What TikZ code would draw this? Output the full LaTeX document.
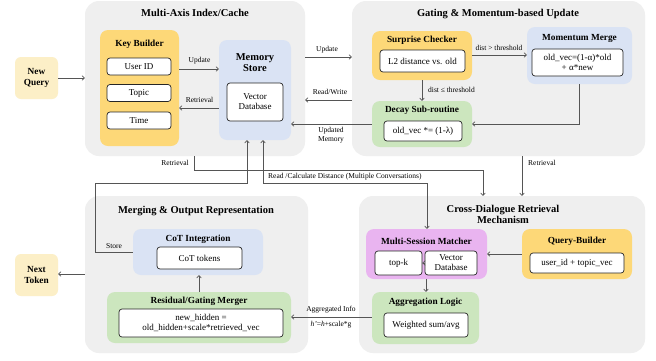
\documentclass[tikz,border=0pt]{standalone}
\usepackage{fontspec}
\setmainfont{Liberation Serif}
\usetikzlibrary{arrows.meta}
\definecolor{panelgray}{HTML}{EFEFEF}
\definecolor{ygold}{HTML}{FDD878}
\definecolor{ylight}{HTML}{FCEFC7}
\definecolor{bluebox}{HTML}{DAE3F4}
\definecolor{greenbox}{HTML}{CCE6BE}
\definecolor{pinkbox}{HTML}{E9B4F0}
\definecolor{linegray}{HTML}{555555}
\begin{document}
\begin{tikzpicture}[x=1pt,y=-1pt,
  panel/.style={fill=panelgray, rounded corners=14pt, inner sep=0pt},
  card/.style={rounded corners=8pt, inner sep=0pt},
  inbox/.style={draw=black!85, line width=0.7pt, fill=white, rounded corners=3pt, inner sep=0pt, font=\fontsize{9}{10}\selectfont, align=center},
  ptitle/.style={font=\bfseries\fontsize{10.5}{11}\selectfont, align=center, inner sep=0pt},
  ctitle/.style={font=\bfseries\fontsize{9.3}{10.5}\selectfont, align=center, inner sep=0pt},
  lbl/.style={font=\fontsize{7.5}{9}\selectfont, align=center, inner sep=0pt},
  conn/.style={draw=linegray, line width=0.7pt, -{To[length=3pt,width=5pt]}},
  conn2/.style={draw=linegray, line width=0.7pt, {To[length=3pt,width=5pt]}-{To[length=3pt,width=5pt]}}
]
\useasboundingbox (0,0) rectangle (656,360);
\fill[white] (0,0) rectangle (656,360);

% panels
\node[panel, minimum width=220, minimum height=155] (p1) at (195,78.5) {};
\node[panel, minimum width=293, minimum height=155] (p2) at (498.5,78.5) {};
\node[panel, minimum width=223, minimum height=157] (p3) at (196.5,274.5) {};
\node[panel, minimum width=286, minimum height=157] (p4) at (502,274.5) {};
\node[ptitle] (t1) at (195,13) {Multi-Axis Index/Cache};
\node[ptitle] (t2) at (498,14) {Gating \& Momentum-based Update};
\node[ptitle] (t3) at (196,211) {Merging \& Output Representation};
\node[ptitle] (t4) at (503,214) {Cross-Dialogue Retrieval\\Mechanism};

% outer boxes
\node[card, fill=ylight, minimum width=43, minimum height=42, rounded corners=6pt, font=\bfseries\fontsize{9.3}{11}\selectfont, align=center] (nq) at (36.5,78) {New\\Query};
\node[card, fill=ylight, minimum width=43, minimum height=42, rounded corners=6pt, font=\bfseries\fontsize{9.3}{11}\selectfont, align=center] (nt) at (36.5,275) {Next\\Token};

% Multi-Axis
\node[card, fill=ygold, minimum width=79, minimum height=116] (kb) at (139.5,88) {};
\node[ctitle] (kbt) at (139.5,44) {Key Builder};
\node[inbox, minimum width=64, minimum height=17] (uid) at (139,66.5) {User ID};
\node[inbox, minimum width=64, minimum height=17] (top) at (139,93) {Topic};
\node[inbox, minimum width=64, minimum height=17] (tim) at (139,120.5) {Time};
\node[card, fill=bluebox, minimum width=72, minimum height=100] (ms) at (255,90) {};
\node[ptitle] (mst) at (255,63) {Memory\\Store};
\node[inbox, minimum width=56, minimum height=38] (vdb) at (255,102) {Vector\\Database};

% Gating
\node[card, fill=ygold, minimum width=100, minimum height=49] (sc) at (422,55.5) {};
\node[ctitle] (sct) at (422,40) {Surprise Checker};
\node[inbox, minimum width=85, minimum height=22] (l2) at (422.5,61) {L2 distance vs. old};
\node[card, fill=bluebox, minimum width=105, minimum height=57] (mm) at (579.5,55.5) {};
\node[ctitle] (mmt) at (579.5,38) {Momentum Merge};
\node[inbox, minimum width=91, minimum height=27] (mmi) at (577.5,62.5) {old\_vec=(1-α)*old\\+ α*new};
\node[card, fill=greenbox, minimum width=100, minimum height=46] (dec) at (422,124) {};
\node[ctitle] (dect) at (422,110) {Decay Sub-routine};
\node[inbox, minimum width=78, minimum height=20] (deci) at (423,131) {old\_vec *= (1-λ)};

% Merging
\node[card, fill=bluebox, minimum width=130, minimum height=46] (cot) at (198,252) {};
\node[ctitle] (cott) at (198,239) {CoT Integration};
\node[inbox, minimum width=85, minimum height=22] (coti) at (199.5,258) {CoT tokens};
\node[card, fill=greenbox, minimum width=184, minimum height=51] (res) at (199,317.5) {};
\node[ctitle] (rest) at (199,301) {Residual/Gating Merger};
\node[inbox, minimum width=164, minimum height=28] (resi) at (201,323) {new\_hidden =\\old\_hidden+scale*retrieved\_vec};

% Cross-Dialogue
\node[card, fill=pinkbox, minimum width=121, minimum height=50] (msm) at (426.5,254) {};
\node[ctitle] (msmt) at (426.5,241) {Multi-Session Matcher};
\node[inbox, minimum width=47, minimum height=24] (topk) at (398.5,263) {top-k};
\node[inbox, minimum width=52, minimum height=24] (vdb2) at (451,263) {Vector\\Database};
\node[card, fill=ygold, minimum width=110, minimum height=50] (qb) at (577,254) {};
\node[ctitle] (qbt) at (577,241) {Query-Builder};
\node[inbox, minimum width=94, minimum height=20] (qbi) at (577,263) {user\_id + topic\_vec};
\node[card, fill=greenbox, minimum width=107, minimum height=52] (agg) at (425.5,318) {};
\node[ctitle] (aggt) at (425.5,302) {Aggregation Logic};
\node[inbox, minimum width=84, minimum height=24] (aggi) at (426,325) {Weighted sum/avg};

% connectors
\draw[conn] (nq.east) -- (nq.east -| p1.west);
\draw[conn] (kb.east |- 0,69) -- (ms.west |- 0,69);
\node[lbl] (lu1) at (199.5,61) {Update};
\draw[conn] (ms.west |- 0,108) -- (kb.east |- 0,108);
\node[lbl] (lr1) at (199.5,100) {Retrieval};
\draw[conn] (p1.east |- 0,57) -- (p2.west |- 0,57);
\node[lbl] (lu2) at (327,50) {Update};
\draw[conn] (p2.west |- 0,100) -- (p1.east |- 0,100);
\node[lbl] (lrw) at (330,92) {Read/Write};
\draw[conn] (dec.west) -- (ms.east |- dec.west);
\node[lbl] (lum) at (331,135) {Updated\\Memory};
\draw[conn] (sc.east |- 0,55) -- (mm.west |- 0,55);
\node[lbl] (ldg) at (499,48) {dist > threshold};
\draw[conn] (sc.south) -- (dec.north);
\node[lbl, anchor=west] (ldl) at (428,90) {dist ≤ threshold};
\draw[conn] (mm.south) |- (dec.east);

\draw[conn] (p2.south -| 522,0) -- (p4.north -| 522,0);
\node[lbl, anchor=west] (lr3) at (528,163) {Retrieval};
\coordinate (r1) at (483,170);
\draw[conn] (p1.south -| 194,0) |- (r1) -- (r1 |- p4.north);
\node[lbl, anchor=east] (lr2) at (189,163) {Retrieval};
\coordinate (rc) at (427,183);
\draw[conn2] (ms.south -| 263,0) |- (rc) -- (rc |- msm.north);
\node[lbl, anchor=west] (lrc) at (268,177) {Read /Calculate Distance (Multiple Conversations)};
\coordinate (st) at (95,183);
\draw[conn] (cot.west) -| (st) -| (ms.south -| 247,0);
\node[lbl] (lst) at (114,246) {Store};
\draw[conn] (res.north -| 199,0) -- (cot.south -| 199,0);
\draw[conn] (agg.west |- 0,317) -- (res.east |- 0,317);
\node[lbl] (lai) at (331,310) {Aggregated Info};
\node[lbl] (lh) at (331,325) {\textit{h'}=\textit{h}+scale*g};
\draw[conn] (p3.west |- 0,274) -- (nt.east |- 0,274);
\draw[conn] (qb.west) -- (msm.east);
\draw[conn] (vdb2.west) -- (topk.east);
\draw[conn] (msm.south -| 426,0) -- (agg.north -| 426,0);
\end{tikzpicture}
\end{document}
